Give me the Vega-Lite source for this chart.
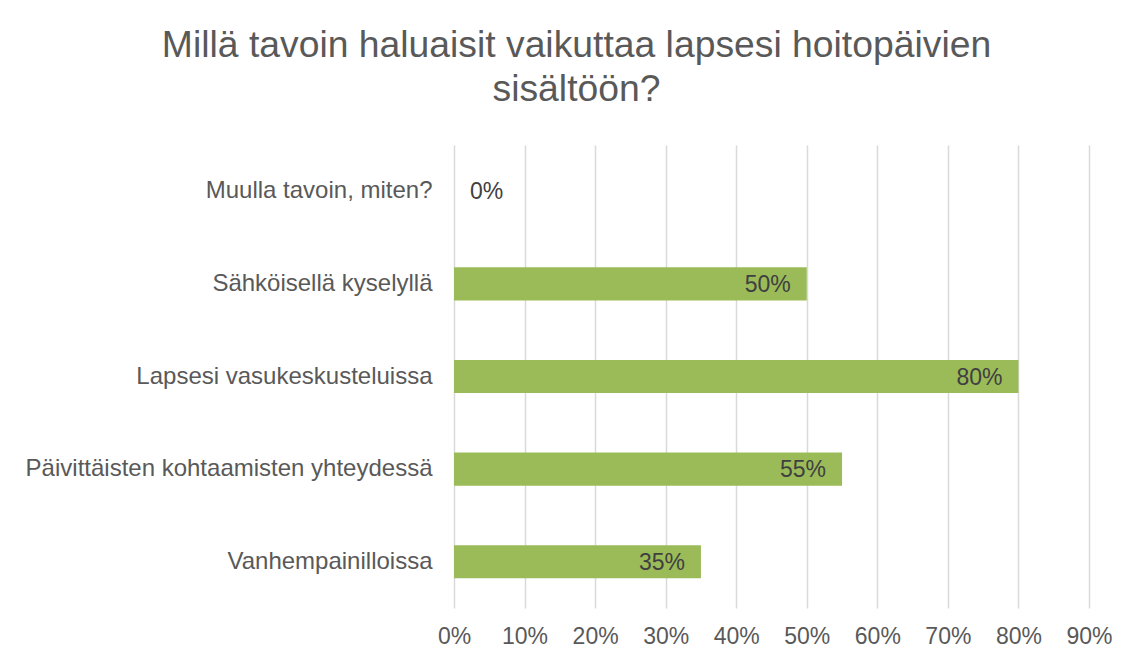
{
  "$schema": "https://vega.github.io/schema/vega-lite/v6.json",
  "width": 635,
  "height": 463,
  "autosize": {"type": "none"},
  "padding": {"left": 454, "top": 145, "right": 52, "bottom": 56},
  "background": "white",
  "title": {
    "text": ["Millä tavoin haluaisit vaikuttaa lapsesi hoitopäivien", "sisältöön?"],
    "font": "Liberation Sans",
    "fontSize": 37.3,
    "fontWeight": "normal",
    "color": "#595959",
    "anchor": "middle",
    "dx": -195,
    "lineHeight": 44,
    "offset": 36
  },
  "config": {
    "view": {"stroke": null},
    "font": "Liberation Sans"
  },
  "data": {
    "values": [
      {"kategoria": "Muulla tavoin, miten?", "osuus": 0},
      {"kategoria": "Sähköisellä kyselyllä", "osuus": 0.5},
      {"kategoria": "Lapsesi vasukeskusteluissa", "osuus": 0.8},
      {"kategoria": "Päivittäisten kohtaamisten yhteydessä", "osuus": 0.55},
      {"kategoria": "Vanhempainilloissa", "osuus": 0.35}
    ]
  },
  "encoding": {
    "y": {
      "field": "kategoria",
      "type": "nominal",
      "sort": null,
      "scale": {"paddingInner": 0.643, "paddingOuter": 0.3215},
      "axis": {
        "title": null,
        "ticks": false,
        "domain": false,
        "labelFont": "Liberation Sans",
        "labelFontSize": 24,
        "labelColor": "#595959",
        "labelPadding": 22,
        "labelLimit": 500
      }
    },
    "x": {
      "field": "osuus",
      "type": "quantitative",
      "scale": {"domain": [0, 0.9], "nice": false},
      "axis": {
        "title": null,
        "values": [0, 0.1, 0.2, 0.3, 0.4, 0.5, 0.6, 0.7, 0.8, 0.9],
        "format": ".0%",
        "grid": true,
        "gridColor": "#d9d9d9",
        "gridWidth": 1.5,
        "domain": false,
        "ticks": false,
        "labelFlush": false,
        "labelOverlap": false,
        "labelFont": "Liberation Sans",
        "labelFontSize": 23,
        "labelColor": "#595959",
        "labelPadding": 17
      }
    }
  },
  "layer": [
    {"mark": {"type": "bar", "color": "#9bbb59"}},
    {
      "transform": [{"filter": "datum.osuus > 0"}],
      "mark": {"type": "text", "align": "right", "baseline": "middle", "dx": -16, "dy": 1, "fontSize": 23, "color": "#404040", "font": "Liberation Sans"},
      "encoding": {"text": {"field": "osuus", "type": "quantitative", "format": ".0%"}}
    },
    {
      "transform": [{"filter": "datum.osuus == 0"}],
      "mark": {"type": "text", "align": "left", "baseline": "middle", "dx": 16, "dy": 1, "fontSize": 23, "color": "#404040", "font": "Liberation Sans"},
      "encoding": {"text": {"field": "osuus", "type": "quantitative", "format": ".0%"}}
    }
  ]
}
